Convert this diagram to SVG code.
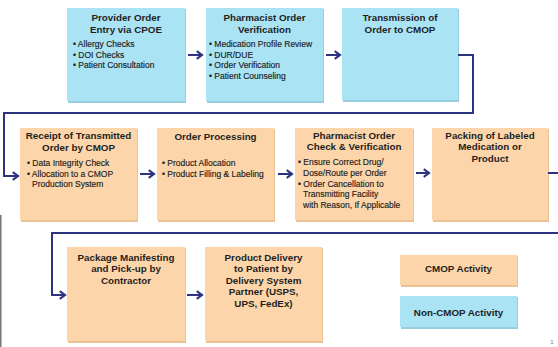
<svg xmlns="http://www.w3.org/2000/svg" width="558" height="347" viewBox="0 0 558 347">
<style>
.blue{fill:#a9e3f4;}
.orange{fill:#fcd6aa;}
.shb{fill:#98cddd;}
.sho{fill:#eac296;}
.t{font-family:"Liberation Sans",Arial,sans-serif;font-weight:bold;font-size:9.8px;fill:#1f1f1f;text-anchor:middle;}
.b{font-family:"Liberation Sans",Arial,sans-serif;font-size:8.5px;fill:#1c1c1c;stroke:#1c1c1c;stroke-width:0.15px;}
.conn{fill:none;stroke:#2d3380;stroke-width:2;}
</style>
<defs>
<marker id="ah" viewBox="0 0 10 10" refX="8" refY="5" markerWidth="4.8" markerHeight="4.8" orient="auto" markerUnits="strokeWidth">
<path d="M2.5,1 L8,5 L2.5,9" fill="none" stroke="#2d3380" stroke-width="2.2"/>
</marker>
</defs>
<rect width="558" height="347" fill="#ffffff"/>
<rect x="0" y="215" width="1.5" height="132" fill="#777"/>

<g id="n1">
<rect x="68" y="9" width="118" height="94" class="shb"/>
<rect x="67" y="8" width="118" height="93" class="blue"/>
<text class="t" x="126" y="20.5">Provider Order</text>
<text class="t" x="126" y="32.5">Entry via CPOE</text>
<text class="b" x="73" y="47">• Allergy Checks</text>
<text class="b" x="73" y="57.5">• DOI Checks</text>
<text class="b" x="73" y="68">• Patient Consultation</text>
</g>
<g id="n2">
<rect x="207" y="9" width="117" height="94" class="shb"/>
<rect x="206" y="8" width="117" height="93" class="blue"/>
<text class="t" x="264.5" y="20.5">Pharmacist Order</text>
<text class="t" x="264.5" y="32.5">Verification</text>
<text class="b" x="209" y="47">• Medication Profile Review</text>
<text class="b" x="209" y="57.5">• DUR/DUE</text>
<text class="b" x="209" y="68">• Order Verification</text>
<text class="b" x="209" y="78.5">• Patient Counseling</text>
</g>
<g id="n3">
<rect x="343" y="9" width="116" height="93" class="shb"/>
<rect x="342" y="8" width="116" height="92" class="blue"/>
<text class="t" x="400" y="20.5">Transmission of</text>
<text class="t" x="400" y="32.5">Order to CMOP</text>
</g>

<g id="n4">
<rect x="21" y="129" width="117" height="93" class="sho"/>
<rect x="20" y="128" width="117" height="92" class="orange"/>
<text class="t" x="78.5" y="138.5">Receipt of Transmitted</text>
<text class="t" x="78.5" y="150.5">Order by CMOP</text>
<text class="b" x="27" y="166">• Data Integrity Check</text>
<text class="b" x="27" y="176.5">• Allocation to a CMOP</text>
<text class="b" x="32" y="187">Production System</text>
</g>
<g id="n5">
<rect x="158" y="129" width="117" height="93" class="sho"/>
<rect x="157" y="128" width="117" height="92" class="orange"/>
<text class="t" x="215.5" y="140">Order Processing</text>
<text class="b" x="162" y="166">• Product Allocation</text>
<text class="b" x="162" y="176.5">• Product Filling &amp; Labeling</text>
</g>
<g id="n6">
<rect x="296" y="129" width="118" height="93" class="sho"/>
<rect x="295" y="128" width="118" height="92" class="orange"/>
<text class="t" x="354" y="138.5">Pharmacist Order</text>
<text class="t" x="354" y="150">Check &amp; Verification</text>
<text class="b" x="298" y="165">• Ensure Correct Drug/</text>
<text class="b" x="303" y="175.8">Dose/Route per Order</text>
<text class="b" x="298" y="186.6">• Order Cancellation to</text>
<text class="b" x="303" y="197.4">Transmitting Facility</text>
<text class="b" x="303" y="208.2">with Reason, If Applicable</text>
</g>
<g id="n7">
<rect x="433" y="129" width="116" height="93" class="sho"/>
<rect x="432" y="128" width="116" height="92" class="orange"/>
<text class="t" x="490" y="138.5">Packing of Labeled</text>
<text class="t" x="490" y="150">Medication or</text>
<text class="t" x="490" y="161.5">Product</text>
</g>

<g id="n8">
<rect x="68" y="248" width="118" height="95" class="sho"/>
<rect x="67" y="247" width="118" height="94" class="orange"/>
<text class="t" x="126" y="260.5">Package Manifesting</text>
<text class="t" x="126" y="272">and Pick-up by</text>
<text class="t" x="126" y="283.5">Contractor</text>
</g>
<g id="n9">
<rect x="206" y="248" width="117" height="95" class="sho"/>
<rect x="205" y="247" width="117" height="94" class="orange"/>
<text class="t" x="263.5" y="260.5">Product Delivery</text>
<text class="t" x="263.5" y="272">to Patient by</text>
<text class="t" x="263.5" y="283.5">Delivery System</text>
<text class="t" x="263.5" y="295">Partner (USPS,</text>
<text class="t" x="263.5" y="306.5">UPS, FedEx)</text>
</g>

<g id="legend-cmop">
<rect x="401" y="256" width="117" height="31" class="sho"/>
<rect x="400" y="255" width="117" height="30" class="orange"/>
<text class="t" x="458.5" y="271.5">CMOP Activity</text>
</g>
<g id="legend-noncmop">
<rect x="401" y="297" width="117" height="32" class="shb"/>
<rect x="400" y="296" width="117" height="31" class="blue"/>
<text class="t" x="458.5" y="315.5">Non-CMOP Activity</text>
</g>

<g id="connectors">
<path class="conn" d="M188,55 H202" marker-end="url(#ah)"/>
<path class="conn" d="M326,55 H340" marker-end="url(#ah)"/>
<path class="conn" d="M458,55 H473 V113 H4 V176 H18" marker-end="url(#ah)"/>
<path class="conn" d="M140,174 H154" marker-end="url(#ah)"/>
<path class="conn" d="M278,174 H292" marker-end="url(#ah)"/>
<path class="conn" d="M416,173 H429" marker-end="url(#ah)"/>
<path class="conn" d="M548,173 H560 V233 H52 V295 H65" marker-end="url(#ah)"/>
<path class="conn" d="M187,295 H202" marker-end="url(#ah)"/>
</g>
<text x="552" y="344" style="font-family:'Liberation Sans',Arial,sans-serif;font-size:6px;fill:#777;text-anchor:middle;">1</text>
</svg>
